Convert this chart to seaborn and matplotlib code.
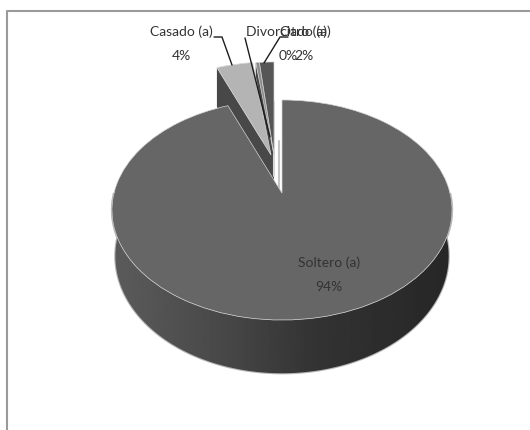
import numpy as np
import matplotlib
matplotlib.use("Agg")
import matplotlib.pyplot as plt
from matplotlib.patches import Polygon
from matplotlib.transforms import Transform
import seaborn as sns

categories = ["Soltero (a)", "Casado (a)", "Divorciado (a)", "Otro (a)"]
shares = [94, 4, 0.4, 1.6]
face_colors = ["#666666", "#b4b4b4", "#8c8c8c", "#565656"]

# Perspective and placement of the tilted disc, in canvas pixels
PIE_X, PIE_Y = 282, 193
RADIUS_X, RADIUS_Y = 168, 107.4
TILT = 0.1545
DEPTH = 45
BASE_SHRINK = 0.98
DETACHED_OFFSET = {"Casado (a)": (-11, -38), "Divorciado (a)": (-8, -38), "Otro (a)": (-8, -38)}


def project(u, v, dx=0, dy=0):
    w = 1 + TILT * np.asarray(v)
    return PIE_X + dx + RADIUS_X * np.asarray(u) / w, PIE_Y + dy - RADIUS_Y * np.asarray(v) / w


class TiltedDisc(Transform):
    input_dims = output_dims = 2

    def __init__(self, dx=0, dy=0):
        super().__init__()
        self.dx, self.dy = dx, dy

    def transform_non_affine(self, values):
        x, y = project(values[:, 0], values[:, 1], self.dx, self.dy)
        return np.column_stack([x, y])


sns.set_theme(style="white")
plt.rcParams["font.family"] = ["Lato", "DejaVu Sans"]

fig = plt.figure(figsize=(5.3, 4.3), dpi=100, facecolor="white")
ax = fig.add_axes([0, 0, 1, 1])

wedges, _ = ax.pie(shares, startangle=90, counterclock=False, radius=1, center=(0, 0),
                   colors=face_colors, wedgeprops={"edgecolor": "#d4d4d4", "linewidth": 0.5})

# Side wall of the large slice, shaded from left to right
theta = np.linspace(np.pi, 2 * np.pi, 200)
u, v = np.cos(theta), np.sin(theta)
top_x, top_y = project(u, v)
low_x = PIE_X + (top_x - PIE_X) * BASE_SHRINK
low_y = top_y + DEPTH / (1 + TILT * v)
outline = np.column_stack([np.r_[top_x, low_x[::-1]], np.r_[top_y, low_y[::-1]]])
wall = Polygon(outline, closed=True, facecolor="none", edgecolor="#b5b5b5", linewidth=1.6, zorder=1)
ax.add_patch(wall)
shade = np.interp(np.linspace(0, 1, 256), [0, 0.3, 0.6, 1], [0.36, 0.29, 0.2, 0.15])
image = ax.imshow(shade[None, :], cmap="gray", vmin=0, vmax=1, aspect="auto", zorder=1.1,
                  extent=(PIE_X - 172, PIE_X + 172, 400, 150))
image.set_clip_path(Polygon(outline, closed=True, transform=ax.transData))

# Cut walls of the detached slices, seen behind their top faces
ends = np.cumsum(shares) / np.sum(shares) * 2 * np.pi
for name, start in zip(categories[1:], ends[:-1]):
    dx, dy = DETACHED_OFFSET[name]
    rx, ry = project(np.sin(start), np.cos(start), dx, dy)
    ax0, ay0 = project(0.0, 0.0, dx, dy)
    rim_depth = DEPTH / (1 + TILT * np.cos(start))
    ax.fill([ax0, rx, rx, ax0], [ay0, ry, ry + rim_depth, ay0 + DEPTH],
            color="#484848", zorder=1.5, linewidth=0)

for name, wedge in zip(categories, wedges):
    dx, dy = DETACHED_OFFSET.get(name, (0, 0))
    wedge.set_transform(TiltedDisc(dx, dy) + ax.transData)
    wedge.set_zorder(3 if name == categories[0] else 2)

# Pale inner faces glimpsed in the gap beside the large slice
ax.plot([273.5, 273.5], [102, 176], color="#d8d8d8", linewidth=1.5, zorder=1.6)
ax.plot([279, 279], [141, 190], color="#c4c4c4", linewidth=1.5, zorder=1.6)

# Leader lines from the outer labels to their slices
leaders = {
    "Casado (a)": ([214, 222, 232], [37, 37, 65]),
    "Divorciado (a)": ([245, 270], [38, 137]),
    "Otro (a)": ([288, 280, 264], [37, 37, 63]),
}
for xs, ys in leaders.values():
    ax.plot(xs, ys, color="#1c1c1c", linewidth=1.0, zorder=4)

# Category names with rounded percentages
label_spots = {"Soltero (a)": (329, 263, 287), "Casado (a)": (181, 32, 56),
               "Divorciado (a)": (288, 32, 56), "Otro (a)": (304, 32, 56)}
for name, share in zip(categories, shares):
    x, y_name, y_pct = label_spots[name]
    ax.text(x, y_name, name, ha="center", va="center", fontsize=10, color="#333333", zorder=5)
    ax.text(x, y_pct, f"{round(share)}%", ha="center", va="center", fontsize=10, color="#333333", zorder=5)

ax.set_aspect("auto")
ax.set_xlim(0, 530)
ax.set_ylim(430, 0)
ax.axis("off")

# Chart area border: only the top and left edges fall inside the canvas
ax.plot([7, 7, 530], [430, 10.5, 10.5], color="#9a9a9a", linewidth=1.5, zorder=6)

fig.savefig("out.png", dpi=100)
